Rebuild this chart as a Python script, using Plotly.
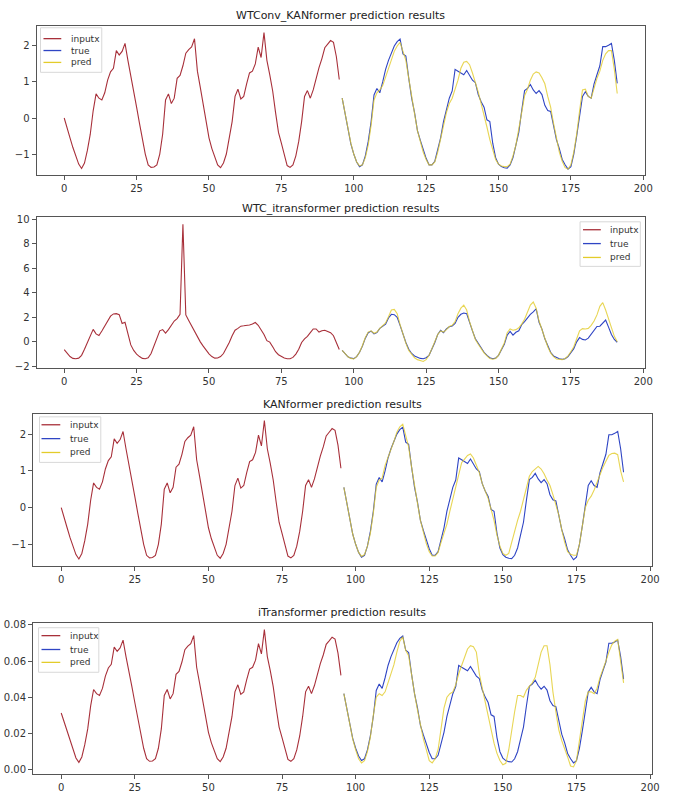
import plotly.graph_objects as go

# ---------------- data ----------------
x_in = list(range(0, 96))
x_out = list(range(96, 192))

# shared series for WTConv_KANformer / KANformer panels
input_a = [0, -0.25, -0.55, -0.82, -1.05, -1.28, -1.4, -1.25, -0.9, -0.45,
           0.2, 0.67, 0.55, 0.5, 0.7, 1.05, 1.28, 1.38, 1.87, 1.75,
           1.85, 2.07, 1.6, 1.2, 0.75, 0.3, -0.15, -0.6, -1.0, -1.3,
           -1.37, -1.36, -1.3, -1.0, -0.45, 0.5, 0.67, 0.4, 0.55, 1.1,
           1.18, 1.45, 1.8, 1.9, 1.97, 2.2, 1.3, 0.85, 0.4, -0.1,
           -0.55, -0.85, -1.1, -1.3, -1.38, -1.25, -1.0, -0.6, -0.1, 0.6,
           0.8, 0.53, 0.6, 0.95, 1.25, 1.3, 1.5, 1.97, 1.68, 2.37,
           1.6, 1.2, 0.75, 0.15, -0.4, -0.7, -1.05, -1.32, -1.37, -1.3,
           -1.05, -0.65, -0.1, 0.6, 0.76, 0.55, 0.78, 1.1, 1.4, 1.65,
           1.95, 2.05, 2.15, 2.1, 1.7, 1.07]

true_a = [0.55, 0.1, -0.35, -0.72, -1.0, -1.22, -1.35, -1.3, -1.05, -0.65,
          -0.1, 0.64, 0.82, 0.7, 1.0, 1.35, 1.6, 1.83, 2.0, 2.12,
          2.19, 1.78, 1.72, 1.1, 0.55, 0.15, -0.35, -0.62, -0.9, -1.12,
          -1.3, -1.3, -1.2, -0.9, -0.55, -0.1, 0.23, 0.55, 0.75, 1.35,
          1.3, 1.24, 1.2, 1.32, 1.18, 1.05, 0.98, 0.65, 0.45, 0.3,
          -0.05, -0.1, -0.7, -1.1, -1.28, -1.35, -1.38, -1.39, -1.3, -1.1,
          -0.75, -0.4, 0.2, 0.76, 0.82, 0.93, 0.78, 0.68, 0.76, 0.65,
          0.35, 0.21, 0.18, -0.2, -0.6, -0.85, -1.15, -1.3, -1.42, -1.35,
          -1.0, -0.5, 0.05, 0.6, 0.73, 0.6, 0.55, 0.95, 1.2, 1.45,
          1.98, 1.98, 2.02, 2.07, 1.6, 0.96]

pred_wtconv_kan = [0.55, 0.1, -0.35, -0.7, -1.0, -1.22, -1.33, -1.3, -1.1, -0.75,
                   -0.2, 0.5, 0.7, 0.78, 0.9, 1.15, 1.4, 1.62, 1.85, 2.0,
                   2.1, 1.85, 1.6, 1.1, 0.55, 0.12, -0.35, -0.65, -0.95, -1.15,
                   -1.3, -1.3, -1.22, -0.95, -0.6, -0.2, 0.15, 0.4, 0.55, 0.8,
                   1.05, 1.38, 1.55, 1.57, 1.48, 1.25, 1.0, 0.72, 0.4, 0.1,
                   -0.25, -0.6, -0.9, -1.15, -1.28, -1.33, -1.35, -1.35, -1.28, -1.05,
                   -0.75, -0.35, 0.15, 0.62, 0.8, 1.05, 1.22, 1.28, 1.25, 1.12,
                   0.95, 0.6, 0.3, -0.15, -0.6, -0.95, -1.2, -1.38, -1.42, -1.3,
                   -0.95, -0.45, 0.2, 0.78, 0.8, 0.6, 0.55, 0.85, 1.1, 1.3,
                   1.6, 1.78, 1.87, 1.87, 1.35, 0.68]

pred_kan = [0.55, 0.1, -0.35, -0.72, -1.0, -1.22, -1.33, -1.28, -1.05, -0.7,
            -0.15, 0.55, 0.75, 0.8, 1.15, 1.35, 1.55, 1.8, 2.05, 2.2,
            2.27, 1.95, 1.65, 1.1, 0.55, 0.12, -0.35, -0.68, -0.98, -1.2,
            -1.32, -1.32, -1.22, -0.95, -0.7, -0.45, -0.1, 0.25, 0.6, 0.95,
            1.22, 1.32, 1.42, 1.46, 1.35, 1.15, 0.95, 0.65, 0.45, 0.25,
            -0.05, -0.35, -0.75, -1.05, -1.25, -1.3, -1.25, -0.95, -0.6, -0.35,
            -0.1, 0.2, 0.5, 0.85, 0.98, 1.05, 1.12, 1.05, 0.92, 0.75,
            0.6, 0.35, 0.1, -0.2, -0.6, -0.95, -1.2, -1.27, -1.3, -1.3,
            -1.0, -0.5, 0.0, 0.2, 0.31, 0.48, 0.7, 0.92, 1.1, 1.26,
            1.42, 1.47, 1.48, 1.44, 1.0, 0.7]

# WTC_itransformer panel
input_b = [-0.63, -0.95, -1.2, -1.35, -1.38, -1.33, -1.1, -0.6, -0.05, 0.6,
           1.02, 0.65, 0.52, 0.88, 1.25, 1.65, 2.1, 2.28, 2.3, 2.22,
           1.5, 1.6, 0.65, -0.25, -0.7, -1.0, -1.2, -1.35, -1.38, -1.3,
           -0.95, -0.35, 0.3, 0.9, 1.0, 0.72, 1.0, 1.4, 1.7, 1.9,
           2.25, 9.6, 2.2, 1.75, 1.3, 0.95, 0.4, 0.0, -0.35, -0.7,
           -0.98, -1.2, -1.33, -1.32, -1.2, -0.95, -0.55, -0.05, 0.5, 0.95,
           1.1, 1.28, 1.31, 1.33, 1.38, 1.45, 1.58, 1.35, 1.0, 0.6,
           0.1, -0.02, -0.4, -0.8, -1.05, -1.22, -1.32, -1.38, -1.38, -1.27,
           -1.0, -0.6, -0.05, 0.25, 0.45, 0.75, 1.05, 1.05, 0.8, 0.9,
           0.95, 0.85, 0.75, 0.5, 0.0, -0.63]

true_b = [-0.7, -1.0, -1.22, -1.33, -1.37, -1.2, -0.85, -0.35, 0.3, 0.75,
          0.88, 0.65, 0.75, 1.1, 1.25, 1.45, 1.95, 2.25, 2.22, 2.0,
          1.35, 0.6, -0.05, -0.6, -0.95, -1.15, -1.28, -1.35, -1.38, -1.3,
          -1.1, -0.6, -0.05, 0.6, 0.95, 0.75, 1.05, 1.23, 1.3, 1.5,
          2.0, 2.25, 2.35, 2.3, 1.5, 0.9, 0.25, -0.15, -0.55, -0.85,
          -1.1, -1.3, -1.38, -1.33, -1.1, -0.7, -0.2, 0.55, 0.85, 0.55,
          0.78, 0.9, 1.4, 1.65, 1.95, 2.25, 2.45, 2.7, 1.6, 1.04,
          0.25, -0.35, -0.85, -1.15, -1.3, -1.38, -1.43, -1.38, -1.2, -0.85,
          -0.55, 0.0, 0.35, 0.2, 0.15, 0.3, 0.6, 0.9, 1.25, 1.28,
          1.5, 1.78, 1.2, 0.6, 0.2, -0.03]

pred_wtc_itr = [-0.7, -1.0, -1.22, -1.35, -1.4, -1.2, -0.85, -0.3, 0.35, 0.8,
                0.9, 0.7, 0.8, 1.1, 1.3, 1.55, 2.05, 2.6, 2.65, 2.3,
                1.4, 0.6, -0.1, -0.7, -1.05, -1.3, -1.45, -1.55, -1.6, -1.45,
                -1.1, -0.55, 0.0, 0.6, 0.9, 0.8, 1.0, 1.25, 1.35, 1.65,
                2.3, 2.75, 3.0, 2.6, 1.65, 0.85, 0.2, -0.2, -0.6, -0.9,
                -1.15, -1.35, -1.42, -1.35, -1.1, -0.65, -0.1, 0.75, 1.05, 0.95,
                1.0, 1.15, 1.45, 1.85, 2.5, 3.0, 3.25, 2.75, 1.7, 0.95,
                0.2, -0.4, -0.9, -1.2, -1.4, -1.45, -1.45, -1.35, -1.15, -0.8,
                -0.4, 0.25, 0.9, 1.08, 1.05, 1.1, 1.35, 1.7, 2.2, 2.9,
                3.2, 2.6, 1.9, 1.1, 0.45, 0.0]

# iTransformer panel
input_c = [0.0313, 0.0264, 0.0206, 0.0153, 0.0109, 0.0064, 0.0040, 0.0070, 0.0138, 0.0225,
           0.0352, 0.0443, 0.0420, 0.0410, 0.0449, 0.0517, 0.0562, 0.0582, 0.0677, 0.0654,
           0.0673, 0.0716, 0.0625, 0.0547, 0.0459, 0.0371, 0.0284, 0.0196, 0.0118, 0.0060,
           0.0046, 0.0048, 0.0060, 0.0118, 0.0225, 0.0410, 0.0443, 0.0391, 0.0420, 0.0527,
           0.0543, 0.0595, 0.0663, 0.0683, 0.0697, 0.0741, 0.0566, 0.0478, 0.0391, 0.0294,
           0.0206, 0.0148, 0.0099, 0.0060, 0.0044, 0.0070, 0.0118, 0.0196, 0.0294, 0.0430,
           0.0469, 0.0416, 0.0430, 0.0498, 0.0556, 0.0566, 0.0605, 0.0697, 0.0640, 0.0774,
           0.0625, 0.0547, 0.0459, 0.0342, 0.0235, 0.0177, 0.0109, 0.0056, 0.0046, 0.0060,
           0.0109, 0.0186, 0.0294, 0.0430, 0.0461, 0.0420, 0.0465, 0.0527, 0.0586, 0.0634,
           0.0693, 0.0712, 0.0732, 0.0722, 0.0644, 0.0521]

true_c = [0.0420, 0.0332, 0.0245, 0.0173, 0.0118, 0.0075, 0.0050, 0.0060, 0.0109, 0.0186,
          0.0294, 0.0438, 0.0473, 0.0449, 0.0508, 0.0576, 0.0625, 0.0669, 0.0702, 0.0726,
          0.0739, 0.0660, 0.0648, 0.0527, 0.0420, 0.0342, 0.0245, 0.0192, 0.0138, 0.0095,
          0.0060, 0.0060, 0.0079, 0.0138, 0.0206, 0.0294, 0.0358, 0.0420, 0.0459, 0.0576,
          0.0566, 0.0554, 0.0547, 0.0570, 0.0543, 0.0517, 0.0504, 0.0440, 0.0401, 0.0371,
          0.0303, 0.0294, 0.0177, 0.0099, 0.0064, 0.0050, 0.0044, 0.0042, 0.0060, 0.0099,
          0.0167, 0.0235, 0.0352, 0.0461, 0.0473, 0.0494, 0.0465, 0.0445, 0.0461, 0.0440,
          0.0381, 0.0354, 0.0348, 0.0274, 0.0196, 0.0148, 0.0089, 0.0060, 0.0037, 0.0050,
          0.0118, 0.0216, 0.0323, 0.0430, 0.0455, 0.0430, 0.0420, 0.0498, 0.0547, 0.0595,
          0.0699, 0.0699, 0.0706, 0.0716, 0.0625, 0.0500]

pred_itr = [0.042, 0.033, 0.024, 0.017, 0.011, 0.006, 0.0037, 0.005, 0.010, 0.018,
            0.030, 0.040, 0.042, 0.041, 0.043, 0.048, 0.053, 0.058, 0.065, 0.071,
            0.0734, 0.066, 0.063, 0.052, 0.042, 0.033, 0.024, 0.017, 0.011, 0.005,
            0.0037, 0.006, 0.011, 0.022, 0.034, 0.040, 0.042, 0.043, 0.047, 0.053,
            0.058, 0.063, 0.0667, 0.0685, 0.068, 0.065, 0.053, 0.045, 0.037, 0.029,
            0.021, 0.0146, 0.009, 0.005, 0.0027, 0.0035, 0.011, 0.022, 0.032, 0.041,
            0.041, 0.040, 0.044, 0.046, 0.048, 0.051, 0.058, 0.065, 0.0685, 0.0685,
            0.058, 0.043, 0.032, 0.022, 0.016, 0.012, 0.007, 0.002, 0.0015, 0.005,
            0.016, 0.029, 0.038, 0.043, 0.043, 0.042, 0.045, 0.051, 0.055, 0.060,
            0.065, 0.069, 0.071, 0.072, 0.060, 0.048]

titles = ["WTConv_KANformer prediction results",
          "WTC_itransformer prediction results",
          "KANformer prediction results",
          "iTransformer prediction results"]
series_names = ["inputx", "true", "pred"]
x_ticks = [0, 25, 50, 75, 100, 125, 150, 175, 200]

panels = [
    (input_a, true_a, pred_wtconv_kan),
    (input_b, true_b, pred_wtc_itr),
    (input_a, true_a, pred_kan),
    (input_c, true_c, pred_itr),
]

# ---------------- style / layout ----------------
FONT = "DejaVu Sans"
C_IN = "#a8303a"
C_TRUE = "#2f45c4"
C_PRED = "#e3cc2a"
colors = [C_IN, C_TRUE, C_PRED]

W, H = 676, 803
# pixel boxes (left, right, top, bottom)
boxes = [(37, 652.6, 22, 173),
         (37, 652.6, 215.5, 368),
         (33.5, 659.5, 414, 568),
         (33.5, 659.5, 625, 777.7)]
y_ranges = [[-1.59, 2.56], [-2.16, 10.16], [-1.6, 2.55], [-0.0024, 0.0812]]
y_dticks = [1, 2, 1, 0.02]
y_formats = ["d", "d", "d", ".2f"]
title_y = [12, 207, 405, 615]
# legend boxes: (left, top, right, bottom, line_x0, line_x1, text_x, entry y's)
legend_geo = [
    (41, 24, 103, 69, 44, 62, 70, (35, 47, 59)),
    (587, 220, 648, 265, 590, 608, 615, (228, 242, 256)),
    (40, 417, 102, 463, 42, 61, 69, (425, 439, 453)),
    (39, 630, 100, 675, 42, 61, 69, (638, 652, 665)),
]

fig = go.Figure()
annotations = []
shapes = []
layout = dict(
    width=W, height=H,
    margin=dict(l=0, r=0, t=0, b=0),
    paper_bgcolor="white", plot_bgcolor="white",
    font=dict(family=FONT, size=10, color="#333"),
    showlegend=False,
)

def px(xp):
    return xp / W

def py(yp):
    return 1 - yp / H

for i, (inp, tru, prd) in enumerate(panels):
    n = i + 1
    xa = "x" if n == 1 else f"x{n}"
    ya = "y" if n == 1 else f"y{n}"
    fig.add_trace(go.Scatter(x=x_in, y=inp, mode="lines", name=series_names[0],
                             line=dict(color=C_IN, width=1.1), xaxis=xa, yaxis=ya))
    fig.add_trace(go.Scatter(x=x_out, y=tru, mode="lines", name=series_names[1],
                             line=dict(color=C_TRUE, width=1.1), xaxis=xa, yaxis=ya))
    fig.add_trace(go.Scatter(x=x_out, y=prd, mode="lines", name=series_names[2], opacity=0.8,
                             line=dict(color=C_PRED, width=1.1), xaxis=xa, yaxis=ya))

    l, r, t, b = boxes[i]
    axis_common = dict(showline=True, mirror=True, linecolor="#555", linewidth=1,
                       ticks="outside", ticklen=4, tickcolor="#555", tickwidth=1,
                       showgrid=False, zeroline=False,
                       tickfont=dict(family=FONT, size=10, color="#333"))
    xkey = "xaxis" if n == 1 else f"xaxis{n}"
    ykey = "yaxis" if n == 1 else f"yaxis{n}"
    layout[xkey] = dict(axis_common, domain=[l / W, r / W], range=[-9.55, 200.55],
                        tickvals=x_ticks, anchor=ya)
    layout[ykey] = dict(axis_common, domain=[1 - b / H, 1 - t / H], range=y_ranges[i],
                        dtick=y_dticks[i], tick0=0, tickformat=y_formats[i], anchor=xa)
    annotations.append(dict(
        text=titles[i], xref="paper", yref="paper", x=(l + r) / 2 / W, y=py(title_y[i]),
        xanchor="center", yanchor="middle", showarrow=False,
        font=dict(family=FONT, size=11, color="#222")))

    # hand-drawn legend (matplotlib style compact legend)
    gl, gt, gr, gb, lx0, lx1, tx, ys = legend_geo[i]
    shapes.append(dict(type="rect", xref="paper", yref="paper",
                       x0=px(gl), x1=px(gr), y0=py(gb), y1=py(gt),
                       line=dict(color="#d8d8d8", width=1), fillcolor="rgba(255,255,255,0.85)",
                       layer="above"))
    for k in range(3):
        shapes.append(dict(type="line", xref="paper", yref="paper",
                           x0=px(lx0), x1=px(lx1), y0=py(ys[k]), y1=py(ys[k]),
                           line=dict(color=colors[k], width=1.3), layer="above"))
        annotations.append(dict(
            text=series_names[k], xref="paper", yref="paper", x=px(tx), y=py(ys[k]),
            xanchor="left", yanchor="middle", showarrow=False,
            font=dict(family=FONT, size=9, color="#333")))

layout["annotations"] = annotations
layout["shapes"] = shapes
fig.update_layout(**layout)
fig.write_html("out.html")
